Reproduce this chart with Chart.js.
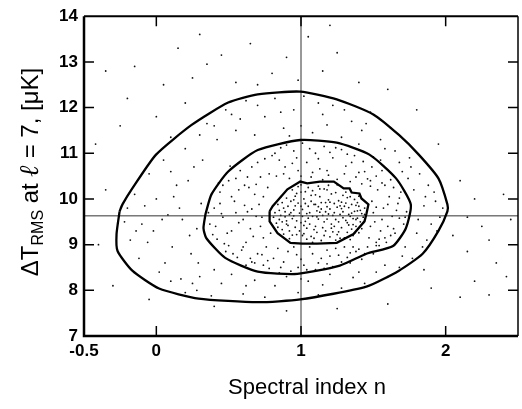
<!DOCTYPE html>
<html>
<head>
<meta charset="utf-8">
<script src="https://cdn.jsdelivr.net/npm/chart.js@4.4.1/dist/chart.umd.min.js"></script>
<style>
  html, body { margin: 0; padding: 0; background: #fff; }
  #wrap { width: 522px; height: 409px; }
</style>
</head>
<body>
<div id="wrap"><canvas id="chart" width="522" height="409"></canvas></div>
<script>
// ── Data ─────────────────────────────────────────────────────────────────────
const xTicks = [-0.5, 0, 1, 2];
const yTicks = [7, 8, 9, 10, 11, 12, 13, 14];
const crossX = 1;
const crossY = 9.63;

// contours (n, ΔT), outer → inner
const outerContour = [
  [-0.254, 9.73], [-0.275, 9.23], [-0.268, 8.86], [-0.166, 8.43], [0.019, 8.04],
  [0.292, 7.82], [0.701, 7.74], [0.995, 7.80], [1.452, 8.08], [1.677, 8.43],
  [1.841, 8.80], [1.950, 9.30], [2.012, 9.73], [2.012, 9.88], [1.950, 10.45],
  [1.814, 10.97], [1.677, 11.40], [1.500, 11.85], [1.247, 12.18], [0.995, 12.35],
  [0.701, 12.29], [0.497, 12.11], [0.244, 11.62], [-0.002, 10.97], [-0.166, 10.23],
  [-0.234, 9.88], [-0.254, 9.73]
];
const middleContour = [
  [0.340, 9.67], [0.326, 9.36], [0.346, 9.14], [0.476, 8.71], [0.701, 8.41],
  [0.974, 8.36], [1.268, 8.54], [1.452, 8.80], [1.636, 8.97], [1.725, 9.36],
  [1.759, 9.88], [1.657, 10.45], [1.473, 10.97], [1.247, 11.23], [0.995, 11.29],
  [0.701, 11.07], [0.497, 10.60], [0.381, 10.10], [0.340, 9.67]
];
const innerContour = [
  [0.783, 9.73], [0.783, 9.51], [0.838, 9.25], [0.927, 9.04], [1.009, 9.02],
  [1.111, 9.02], [1.247, 9.04], [1.363, 9.23], [1.439, 9.51], [1.452, 9.67],
  [1.466, 9.88], [1.418, 10.01], [1.404, 10.12], [1.350, 10.14], [1.336, 10.23],
  [1.295, 10.23], [1.227, 10.38], [1.131, 10.38], [1.043, 10.34], [0.995, 10.38],
  [0.906, 10.21], [0.804, 9.84], [0.783, 9.73]
];

// scattered samples (approximate positions)
const samples = [
  // inside inner contour
  [0.82,9.70],[0.85,9.55],[0.88,9.80],[0.91,9.42],[0.93,9.95],[0.95,9.63],[0.97,10.12],[0.99,9.30],[1.01,9.77],[1.03,9.51],
  [1.05,10.25],[1.07,9.18],[1.09,9.88],[1.11,9.61],[1.13,10.05],[1.15,9.37],[1.17,9.72],[1.19,10.30],[1.21,9.45],[1.23,9.90],
  [1.25,9.22],[1.27,9.66],[1.29,10.08],[1.31,9.53],[1.33,9.81],[1.35,9.34],[1.37,9.99],[1.39,9.58],[1.41,9.75],[1.43,9.47],
  [0.84,9.88],[0.87,9.33],[0.90,10.02],[0.92,9.66],[0.94,9.21],[0.96,9.85],[0.98,10.27],[1.00,9.48],[1.02,10.00],[1.04,9.12],
  [1.06,9.70],[1.08,10.18],[1.10,9.40],[1.12,9.83],[1.14,9.09],[1.16,10.22],[1.18,9.56],[1.20,9.93],[1.22,9.28],[1.24,10.14],
  [1.26,9.50],[1.28,9.79],[1.30,9.15],[1.32,10.03],[1.34,9.62],[1.36,9.44],[1.38,9.86],[1.40,9.26],[1.42,9.68],[1.44,9.80],
  [0.83,9.47],[0.86,10.05],[0.89,9.61],[0.92,9.13],[0.94,10.20],[0.97,9.52],[1.00,10.31],[1.02,9.24],[1.05,9.84],[1.08,9.05],
  [1.10,10.09],[1.13,9.71],[1.16,9.20],[1.19,9.98],[1.22,9.64],[1.25,10.31],[1.28,9.37],[1.31,9.91],[1.34,9.11],[1.37,9.73],
  [1.40,10.06],[1.43,9.60],[0.88,9.23],[0.95,9.76],[1.03,9.90],[1.11,9.27],[1.18,9.83],[1.26,9.96],[1.33,9.43],[1.39,9.92],
  [0.86,9.64],[0.91,9.84],[0.96,9.38],[1.01,9.62],[1.06,9.45],[1.12,9.56],[1.17,9.92],[1.23,9.70],[1.29,9.59],[1.35,9.69],
  [0.90,9.52],[0.98,9.91],[1.04,9.68],[1.09,9.33],[1.14,9.78],[1.20,9.17],[1.27,9.85],[1.32,9.27],[1.38,9.55],[1.42,9.35],
  [0.81,9.60],[0.84,9.38],[0.87,9.92],[0.89,9.72],[0.92,9.30],[0.94,9.57],[0.96,10.06],[0.99,9.69],[1.01,9.20],[1.03,10.16],
  [1.05,9.58],[1.07,9.95],[1.09,9.14],[1.11,9.74],[1.13,10.22],[1.15,9.64],[1.17,9.30],[1.19,9.67],[1.21,10.11],[1.23,9.40],
  [1.25,9.82],[1.27,9.14],[1.29,9.72],[1.31,10.15],[1.33,9.66],[1.35,9.88],[1.37,9.25],[1.39,9.74],[1.41,9.50],[1.44,9.66],
  [0.85,9.75],[0.90,9.45],[0.95,9.98],[1.00,9.84],[1.04,9.36],[1.08,9.62],[1.12,10.28],[1.16,9.50],[1.20,9.78],[1.24,9.55],
  [1.28,9.93],[1.32,9.48],[1.36,9.57],[1.40,9.84],[0.93,9.70],[0.97,9.22],[1.02,9.42],[1.07,10.08],[1.14,9.92],[1.21,9.36],
  [1.26,9.28],[1.30,9.84],[1.34,10.05],[1.38,9.40],[0.87,9.50],[1.00,10.15],[1.10,9.88],[1.18,10.20],[1.24,9.10],[1.36,9.20],
  // between inner and middle contour
  [0.37,9.45],[0.40,9.80],[0.42,9.12],[0.44,10.15],[0.46,9.60],[0.48,8.85],[0.50,10.40],[0.52,9.30],[0.54,9.95],[0.56,8.72],
  [0.58,10.62],[0.60,9.55],[0.62,9.05],[0.64,10.25],[0.66,9.78],[0.68,8.60],[0.70,10.80],[0.72,9.40],[0.74,10.05],[0.76,8.95],
  [0.78,10.55],[0.39,9.22],[0.43,10.35],[0.47,9.02],[0.51,10.72],[0.55,9.70],[0.59,8.88],[0.63,10.48],[0.67,9.18],[0.71,9.88],
  [0.75,10.88],[0.79,9.25],[0.45,9.68],[0.53,8.80],[0.57,10.20],[0.61,9.86],[0.65,8.70],[0.69,10.32],[0.73,9.60],[0.77,8.65],
  [0.36,9.70],[0.41,9.40],[0.44,9.90],[0.49,9.25],[0.52,10.05],[0.57,9.48],[0.61,10.30],[0.65,9.35],[0.69,9.62],[0.73,8.78],
  [0.77,10.25],[0.60,8.95],[0.55,10.45],[0.66,10.70],[0.72,10.48],[0.50,8.98],[0.46,10.30],[0.63,9.72],[0.74,9.15],[0.68,10.10],
  [0.80,10.95],[0.83,10.50],[0.86,11.12],[0.89,10.70],[0.92,10.45],[0.95,11.05],[0.98,10.62],[1.01,11.22],[1.04,10.80],[1.07,10.48],
  [1.10,11.00],[1.13,10.66],[1.16,11.15],[1.19,10.52],[1.22,10.90],[1.25,10.43],[1.28,11.08],[1.31,10.72],[1.34,10.38],[1.37,10.95],
  [1.40,10.58],[1.43,10.82],[1.46,10.44],[1.49,10.70],[1.52,10.50],[1.55,10.85],[0.85,10.85],[0.97,10.90],[1.08,10.58],[1.20,11.02],
  [1.30,10.55],[1.42,10.33],[1.58,10.30],
  [0.82,11.00],[0.88,10.55],[0.94,10.78],[1.00,10.50],[1.06,11.10],[1.12,10.88],[1.18,10.62],[1.24,11.12],[1.32,10.98],[1.38,10.48],
  [1.44,10.60],[1.50,10.92],[1.56,10.62],[1.62,10.42],[0.90,11.18],[1.15,10.42],[1.35,10.80],[1.48,10.40],
  [1.47,9.15],[1.49,9.95],[1.51,9.50],[1.53,10.20],[1.55,9.30],[1.57,9.80],[1.59,9.05],[1.61,10.05],[1.63,9.62],[1.65,9.25],
  [1.67,9.90],[1.69,10.15],[1.71,9.45],[1.73,9.72],[1.48,10.28],[1.52,8.98],[1.56,10.35],[1.60,9.40],[1.64,10.25],[1.68,9.58],
  [1.50,9.70],[1.58,9.15],
  [1.48,9.40],[1.52,9.82],[1.56,9.55],[1.60,9.88],[1.64,9.35],[1.68,10.02],[1.72,9.60],[1.54,9.12],[1.62,9.20],[1.66,9.75],
  [0.62,8.55],[0.70,8.80],[0.78,8.48],[0.84,8.92],[0.88,8.62],[0.93,8.42],[0.97,8.78],[1.02,8.55],[1.06,8.95],[1.10,8.45],
  [1.14,8.70],[1.18,8.88],[1.22,8.52],[1.26,8.77],[1.30,8.95],[1.34,8.60],[1.38,8.85],[1.42,8.68],[1.46,8.95],[1.50,8.80],
  [1.54,8.98],[0.81,8.70],[0.91,8.85],[1.00,8.68],[1.08,8.80],[1.16,8.48],[1.24,8.92],[1.32,8.72],[1.40,8.90],
  [0.66,8.62],[0.74,8.55],[0.86,8.50],[0.95,8.95],[1.04,8.45],[1.12,8.60],[1.20,8.75],[1.28,8.62],[1.36,8.95],[1.44,8.80],
  [1.52,9.05],[0.98,8.50],[1.18,8.58],[1.34,8.82],
  // between middle and outer contour
  [-0.22,9.50],[-0.18,9.10],[-0.15,10.10],[-0.12,8.70],[-0.08,9.85],[-0.05,10.55],[-0.02,9.30],[0.02,8.40],[0.05,10.85],[0.08,9.65],
  [0.11,8.95],[0.14,10.30],[0.17,8.25],[0.20,11.10],[0.23,9.20],[0.26,10.70],[0.29,8.60],[0.31,9.90],[-0.10,9.45],[0.00,10.00],
  [0.10,11.35],[0.18,9.55],[0.25,8.15],[0.30,11.40],
  [-0.20,9.80],[-0.14,9.30],[-0.06,9.05],[0.04,9.55],[0.12,10.05],[0.16,9.80],[0.22,10.40],[0.28,9.35],[0.06,8.60],[0.24,8.80],
  [0.10,10.60],[0.32,10.85],
  [0.35,11.65],[0.42,11.30],[0.48,11.95],[0.55,11.50],[0.62,12.15],[0.68,11.40],[0.75,11.80],[0.82,12.20],[0.88,11.55],[0.95,11.95],
  [1.02,12.25],[1.08,11.45],[1.15,11.85],[1.22,12.05],[1.28,11.35],[1.35,11.70],[1.42,11.50],[1.48,11.90],[1.55,11.30],[1.62,11.55],
  [0.58,11.75],[0.92,11.38],[1.18,11.62],[1.40,11.20],
  [0.40,11.60],[0.52,11.85],[0.70,12.05],[0.86,11.90],[1.00,11.60],[1.12,12.10],[1.30,11.95],[1.45,11.65],
  [1.65,11.05],[1.70,10.60],[1.75,10.90],[1.78,10.20],[1.82,10.55],[1.85,9.85],[1.88,10.30],[1.90,9.45],[1.93,9.95],[1.96,9.60],
  [1.80,9.25],[1.84,8.95],[1.77,8.70],[1.72,8.95],[1.87,9.10],[1.92,10.15],[1.98,9.80],[1.74,10.45],[1.68,10.80],[1.81,9.55],
  [1.58,11.10],[1.76,10.70],[1.86,10.05],[1.94,9.30],[1.70,8.75],
  [0.10,8.20],[0.20,7.95],[0.30,8.30],[0.38,7.88],[0.45,8.15],[0.52,8.35],[0.60,7.92],[0.68,8.22],[0.75,7.85],[0.82,8.10],
  [0.90,8.30],[0.98,7.95],[1.05,8.20],[1.12,7.90],[1.20,8.35],[1.28,8.05],[1.36,8.28],[1.44,8.15],[1.52,8.40],[1.60,8.30],
  [1.68,8.50],[0.40,8.45],[0.85,8.38],[1.15,8.12],
  [1.58,8.55],[1.40,8.40],[1.00,8.25],[0.62,8.10],[0.28,8.00],
  // outside the outer contour
  [-0.35,12.80],[-0.25,11.60],[-0.15,12.90],[0.05,12.50],[0.15,13.30],[0.25,12.65],[0.35,12.95],[0.45,13.15],[0.55,12.55],[0.65,13.40],
  [0.80,12.75],[0.90,13.10],[0.98,12.60],[1.05,13.55],[1.15,12.80],[1.25,13.20],[1.40,12.55],[1.60,12.40],[1.80,11.95],[1.95,11.20],
  [2.10,10.40],[2.05,9.20],[2.15,8.85],[2.25,9.40],[2.35,8.60],[2.45,9.55],[2.20,8.20],[2.30,7.90],[2.10,7.85],[1.90,8.05],
  [1.60,7.70],[1.25,7.60],[0.90,7.55],[0.40,7.65],[-0.05,7.80],[-0.30,8.10],[-0.40,9.00],[-0.35,10.20],[0.00,11.80],[-0.20,12.20],
  [0.20,12.10],[2.40,10.10],[2.20,10.00],[1.85,8.45],[2.30,9.10],[2.42,8.30],[2.15,9.60],[-0.42,11.20],[0.30,13.60],[1.20,13.80],
  [0.70,12.50]
];

const pts = arr => arr.map(([x, y]) => ({ x, y }));
const SANS = '"Liberation Sans", Arial, sans-serif';

// ── Frame, inward ticks and axis titles ─────────────────────────────────────
const framePlugin = {
    id: 'frame',
    afterDraw(chart) {
        const { ctx, chartArea: a, scales: { x, y } } = chart;
        ctx.save();
        ctx.strokeStyle = '#000';
        ctx.lineCap = 'butt';

        // box
        ctx.lineWidth = 2.5;
        ctx.beginPath();
        ctx.moveTo(a.left, a.top); ctx.lineTo(a.left, a.bottom); ctx.lineTo(a.right, a.bottom);
        ctx.stroke();
        ctx.lineWidth = 2;
        ctx.beginPath();
        ctx.moveTo(a.left, a.top); ctx.lineTo(a.right, a.top);
        ctx.stroke();
        ctx.lineWidth = 1.5;
        ctx.beginPath();
        ctx.moveTo(a.right, a.top); ctx.lineTo(a.right, a.bottom);
        ctx.stroke();

        // inward ticks
        const len = 10;
        ctx.lineWidth = 1.5;
        ctx.beginPath();
        [0, 1, 2].forEach(v => {
            const px = x.getPixelForValue(v);
            ctx.moveTo(px, a.bottom); ctx.lineTo(px, a.bottom - len);
            ctx.moveTo(px, a.top); ctx.lineTo(px, a.top + len);
        });
        yTicks.slice(1, -1).forEach(v => {
            const py = y.getPixelForValue(v);
            ctx.moveTo(a.left, py); ctx.lineTo(a.left + len, py);
            ctx.moveTo(a.right, py); ctx.lineTo(a.right - len, py);
        });
        ctx.stroke();

        // x title
        ctx.fillStyle = '#000';
        ctx.font = '22px ' + SANS;
        ctx.textAlign = 'center';
        ctx.textBaseline = 'alphabetic';
        ctx.fillText('Spectral index n', (a.left + a.right) / 2 + 6, 394);

        // y title with subscript, rotated
        const parts = [
            { t: '\u0394T', f: '24px ' + SANS, dy: 0 },
            { t: 'RMS', f: '16px ' + SANS, dy: 5 },
            { t: ' at ', f: '24px ' + SANS, dy: 0 },
            { t: '\u2113', f: 'italic bold 27px "DejaVu Serif", serif', dy: 0 },
            { t: ' = 7, [\u03BCK]', f: '24px ' + SANS, dy: 0 }
        ];
        let total = 0;
        parts.forEach(p => { ctx.font = p.f; p.w = ctx.measureText(p.t).width; total += p.w; });
        ctx.translate(38, 172);
        ctx.rotate(-Math.PI / 2);
        ctx.textAlign = 'left';
        let cx = -total / 2;
        parts.forEach(p => { ctx.font = p.f; ctx.fillText(p.t, cx, p.dy); cx += p.w; });
        ctx.restore();
    }
};

new Chart(document.getElementById('chart'), {
    type: 'scatter',
    data: {
        datasets: [
            { data: pts(outerContour), showLine: true, borderColor: '#000', borderWidth: 2.3, pointRadius: 0, tension: 0.2, order: 0 },
            { data: pts(middleContour), showLine: true, borderColor: '#000', borderWidth: 2.3, pointRadius: 0, tension: 0.2, order: 0 },
            { data: pts(innerContour), showLine: true, borderColor: '#000', borderWidth: 2.3, pointRadius: 0, tension: 0, order: 0 },
            { data: [{ x: crossX, y: 7 }, { x: crossX, y: 14 }], showLine: true, borderColor: '#333', borderWidth: 1, pointRadius: 0, order: 1 },
            { data: [{ x: -0.5, y: crossY }, { x: 2.5, y: crossY }], showLine: true, borderColor: '#333', borderWidth: 1, pointRadius: 0, order: 1 },
            { data: pts(samples), pointRadius: 0.9, pointBorderWidth: 0, pointBackgroundColor: '#111', order: 2 }
        ]
    },
    options: {
        responsive: false,
        animation: false,
        events: [],
        layout: { padding: { top: 13, right: 1, left: 0, bottom: 0 } },
        plugins: { legend: { display: false }, tooltip: { enabled: false } },
        scales: {
            x: {
                type: 'linear', min: -0.5, max: 2.5,
                afterBuildTicks: s => { s.ticks = xTicks.map(v => ({ value: v })); },
                afterFit: s => { s.height = 73; },
                grid: { display: false, drawTicks: false },
                border: { display: false },
                ticks: { padding: 5, color: '#000', font: { family: SANS, size: 17, weight: 'bold' },
                         callback: v => String(v) }
            },
            y: {
                type: 'linear', min: 7, max: 14,
                afterBuildTicks: s => { s.ticks = yTicks.map(v => ({ value: v })); },
                afterFit: s => { s.width = 84; },
                grid: { display: false, drawTicks: false },
                border: { display: false },
                ticks: { padding: 6, color: '#000', font: { family: SANS, size: 17, weight: 'bold' } }
            }
        }
    },
    plugins: [framePlugin]
});
</script>
</body>
</html>
